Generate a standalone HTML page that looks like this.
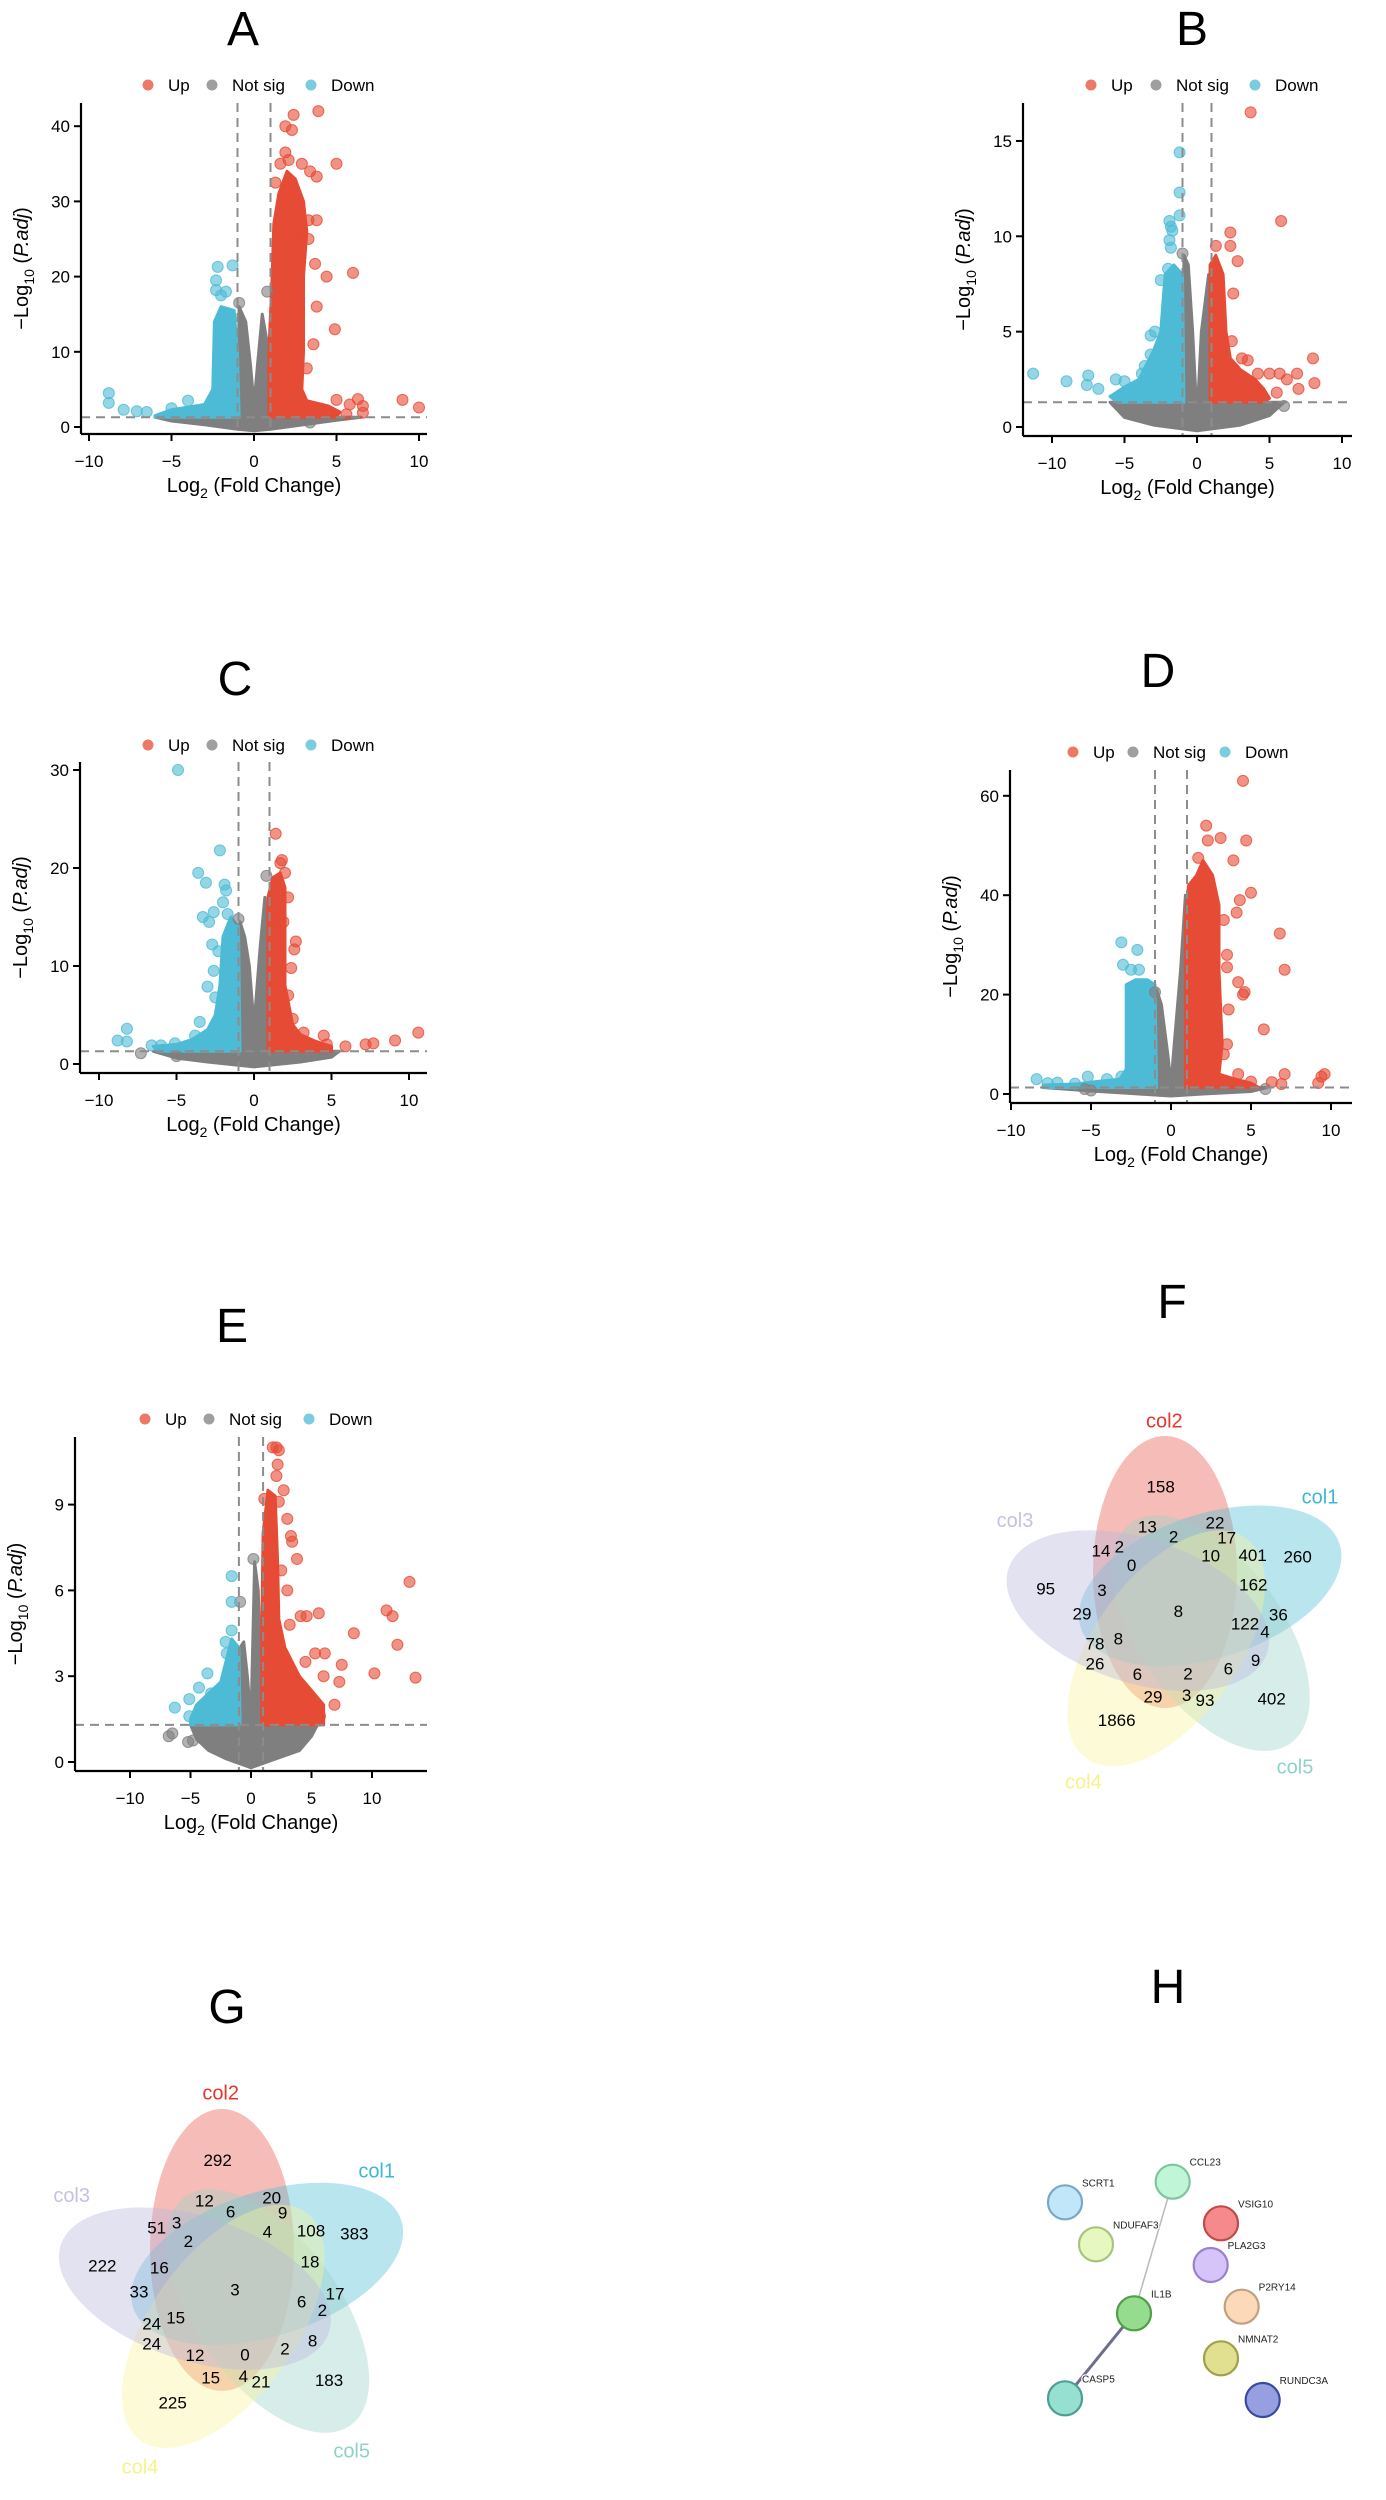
<!DOCTYPE html>
<html><head><meta charset="utf-8">
<style>
html,body{margin:0;padding:0;background:#fff;}
svg{display:block;font-family:"Liberation Sans",Arial,sans-serif;}
</style></head>
<body>
<svg id="root" width="1386" height="2500" viewBox="0 0 1386 2500" xmlns="http://www.w3.org/2000/svg"></svg>
<script>
// ---------- Volcano data (x = log2 FC, y = -log10 padj) ----------
const xTicks10 = [-10,-5,0,5,10];
const aYTicks = [0,10,20,30,40];
const bYTicks = [0,5,10,15];
const cYTicks = [0,10,20,30];
const dYTicks = [0,20,40,60];
const eYTicks = [0,3,6,9];

const aUpEnv = [[0.9,1.3],[0.9,10],[1.1,20],[1.2,27],[1.5,31],[2.0,34],[2.5,33],[3.0,30],[3.2,26],[3.0,20],[3.0,10],[2.9,5],[3.2,3.5],[4.5,2.8],[5.2,2.0],[5,1.3]];
const aDownEnv = [[-0.9,1.3],[-1,10],[-1.2,15.5],[-2,16],[-2.4,14],[-2.5,5],[-3,3],[-5,2.3],[-6,1.5],[-6,1.3]];
const aNsEnv = [[-6,1.3],[-5,0.8],[-3,0.3],[-1,-0.3],[0,-0.5],[1,-0.3],[3,0.3],[5,0.9],[6.5,1.3],[1,1.3],[0.9,10],[0.5,15],[0.2,8],[0,3],[-0.2,8],[-0.5,14],[-0.9,16],[-1,1.3]];
const aUpPts = [[2.4,41.5],[3.9,42],[1.9,40],[2.3,39.5],[1.9,36.5],[2.1,35.5],[1.6,35],[2.9,35],[3.4,34],[5,35],[1.3,32.5],[3.8,33.3],[3.3,27.5],[3.8,27.5],[3.3,25],[3.7,21.7],[4.4,20],[6,20.5],[3.8,16],[4.9,13],[3.6,11],[3.2,7.8],[5,3.6],[5.8,3],[6.3,3.7],[6.6,2.8],[6.6,1.9],[5.6,1.7],[9,3.6],[10,2.6],[1.5,27],[2.1,30],[2.7,25]];
const aDownPts = [[-2.2,21.3],[-1.3,21.5],[-2.3,19.5],[-2.3,18.2],[-1.7,18],[-2.0,17.5],[-8.8,4.5],[-8.8,3.2],[-7.9,2.3],[-7.1,2.1],[-6.5,2],[-4,3.5],[-5,2.5]];
const aNsPts = [[-0.9,16.5],[0.8,18],[3.4,0.6]];

const bUpEnv = [[0.9,1.3],[0.9,8.5],[1.3,9],[1.8,8],[2.0,5],[2.3,3.6],[3,3],[4,2.5],[4.6,2.0],[5,1.5],[4.5,1.3]];
const bDownEnv = [[-0.9,1.3],[-1,8],[-1.6,8.5],[-2.2,8],[-2.5,5],[-3,4],[-4,2.5],[-5,2.1],[-6,1.6],[-5.5,1.3]];
const bNsEnv = [[-6,1.3],[-5,0.5],[-3,0.1],[0,-0.2],[3,0.1],[5,0.6],[6,1.3],[0.9,1.3],[0.8,8],[0.3,5],[0,0.5],[-0.3,5],[-0.6,8.5],[-0.9,9],[-1,1.3]];
const bUpPts = [[3.7,16.5],[5.8,10.8],[2.3,10.2],[2.3,9.5],[2.8,8.7],[1.3,9.5],[2.5,7],[2.4,4.5],[3.1,3.6],[3.5,3.5],[4.2,2.8],[5,2.8],[5.7,2.8],[6.2,2.5],[6.9,2.8],[8,3.6],[8.1,2.3],[7,2],[5.5,1.8]];
const bDownPts = [[-1.2,14.4],[-1.2,12.3],[-1.2,11.1],[-1.9,10.8],[-1.8,10.5],[-1.7,10.3],[-1.9,9.8],[-1.8,9.4],[-2,8.3],[-2.5,7.7],[-3.2,4.8],[-2.9,5],[-3.2,3.8],[-3.6,3.2],[-3.8,2.8],[-11.3,2.8],[-9,2.4],[-7.5,2.7],[-7.6,2.2],[-6.8,2],[-5.6,2.5],[-5,2.4]];
const bNsPts = [[-1.0,9.1],[6,1.1],[4.5,0.8],[-5,0.9]];

const cUpEnv = [[0.9,1.3],[0.9,17],[1.2,19],[1.7,19.5],[2,18],[2,8],[2.5,4],[3,3],[4,2.3],[5,1.8],[5,1.3]];
const cDownEnv = [[-0.9,1.3],[-1,14],[-1.5,15],[-2,13],[-2.2,8],[-2.5,5],[-3,3.5],[-4,2.5],[-5,2],[-6.5,1.8],[-6.2,1.3]];
const cNsEnv = [[-6.5,1.3],[-5,0.6],[-3,0.2],[0,-0.3],[3,0.2],[5,0.7],[5.5,1.3],[0.9,1.3],[0.7,17],[0.4,12],[0,4],[-0.3,10],[-0.6,13],[-0.9,14.5],[-1,1.3]];
const cUpPts = [[1.4,23.5],[1.7,20.5],[1.8,20.8],[2.0,19.5],[2.2,17],[2.7,12.5],[2.6,11.7],[2.4,9.8],[2.2,7],[2.5,4.6],[3.2,3.2],[4.5,2.9],[4.7,2.0],[5.9,1.8],[7.2,2.0],[7.7,2.1],[9.1,2.4],[10.6,3.2],[1.5,15],[1.9,14.5]];
const cDownPts = [[-4.9,30],[-2.2,21.8],[-3.6,19.5],[-3.1,18.5],[-1.9,18.3],[-1.8,17.7],[-2.0,16.5],[-1.7,15.3],[-2.6,15.5],[-3.3,15],[-2.9,14.5],[-2.7,12.2],[-2.3,11.5],[-2.6,9.5],[-3.0,7.9],[-2.5,6.8],[-3.5,4.3],[-8.2,3.6],[-8.8,2.4],[-8.2,2.3],[-6.6,1.9],[-6,1.9],[-5.1,2.1],[-3.8,2.9],[-2.2,4.5]];
const cNsPts = [[-7.3,1.1],[-1.0,14.8],[0.8,19.2],[-5,0.8]];

const dUpEnv = [[0.9,1.3],[0.9,35],[1.1,42],[1.6,44],[2.0,47],[2.6,44],[3.0,38],[3.0,25],[3.2,10],[3.0,4],[4,3],[5,2.2],[5.5,1.3]];
const dDownEnv = [[-0.9,1.3],[-1,22],[-1.5,23],[-2.2,23],[-2.8,22],[-2.8,5],[-3.2,3],[-5,2.4],[-6,2],[-8,1.8],[-8,1.3]];
const dNsEnv = [[-8,1.3],[-5,0.6],[-2,0],[0,-0.4],[2,0],[5,0.5],[6,1.3],[0.9,1.3],[0.9,40],[0.6,25],[0.2,10],[0,2],[-0.2,8],[-0.6,18],[-0.9,21],[-1,1.3]];
const dUpPts = [[4.5,63],[2.2,54],[2.3,51],[3.1,51.5],[4.7,51],[1.7,47.5],[3.9,47],[5,40.5],[4.3,39],[4.1,36.5],[3.3,35],[6.8,32.3],[7.1,25],[3.5,28],[3.5,25.5],[4.2,22.5],[4.6,20.5],[4.5,20],[3.6,17],[5.8,13],[3.5,10],[3.3,8],[4.2,4],[7.1,4],[5,2.5],[6.3,2.4],[6.9,2],[9.2,2.2],[9.4,3.5],[9.6,4]];
const dDownPts = [[-3.1,30.5],[-2.1,29],[-3.0,26],[-2.5,25],[-2.0,25],[-8.4,3],[-7.7,2.2],[-7.1,2.3],[-6,2.1],[-5.2,3.5],[-4,3],[-3.1,3.5]];
const dNsPts = [[-1.0,20.5],[-5,0.7],[-5.4,1],[5.9,1.0]];

const eUpEnv = [[0.9,1.3],[0.9,5],[1.0,8],[1.4,9.5],[2.0,9.3],[2.2,7],[2.3,5],[2.8,4],[4,3],[5,2.5],[6,2],[6,1.3]];
const eDownEnv = [[-0.9,1.3],[-1,4],[-1.6,4.3],[-2.5,2.8],[-3.5,2.4],[-4.5,2],[-5,1.5],[-5,1.3]];
const eNsEnv = [[-5,1.3],[-4.5,0.8],[-3.5,0.4],[-2,0.1],[0,-0.2],[2,0.1],[4,0.4],[5,0.9],[5.5,1.3],[0.9,1.3],[0.6,6],[0.3,7],[0,1.5],[-0.3,3],[-0.6,4.2],[-0.9,4],[-1,1.3]];
const eUpPts = [[1.8,11],[2.1,11],[2.3,10.9],[2.2,10.4],[2.1,10.0],[2.7,9.5],[1.1,9.2],[2.3,9.1],[3.0,8.5],[3.3,7.9],[3.4,7.7],[3.8,7.1],[2.5,6.7],[3.0,6.0],[4.1,5.1],[4.6,5.1],[5.6,5.2],[3.2,4.8],[8.5,4.5],[11.2,5.3],[11.7,5.1],[12.1,4.1],[13.1,6.3],[10.2,3.1],[13.6,2.95],[7.5,3.4],[7.3,2.8],[6.1,3.8],[5.3,3.8],[6.9,2.0],[5.7,1.6],[6,3],[4.5,3.5]];
const eDownPts = [[-1.6,6.5],[-1.6,5.6],[-1.6,4.6],[-2.1,4.2],[-3.6,3.1],[-4.3,2.6],[-6.3,1.9],[-5.1,2.2],[-5.1,1.6],[-3.3,2.4],[-2,3.8]];
const eNsPts = [[-0.9,5.6],[-6.5,1],[-6.8,0.9],[-5.2,0.7],[-4.8,0.75],[3.6,1.1],[-3,0.7],[0.2,7.1]];

const fcCut = [-1, 1];
const padjCut = [1.3];

// ---------- Venn data ----------
const vennSets = ["col2","col1","col5","col4","col3"];
const fCounts = [158,22,17,13,2,14,2,0,10,401,260,95,3,162,29,8,36,122,4,78,8,26,6,2,6,9,29,3,93,402,1866];
const gCounts = [292,20,9,12,6,51,3,2,4,108,383,222,16,18,33,3,17,6,2,24,15,24,12,0,2,8,15,4,21,183,225];

// ---------- Network data ----------
const genes = ["SCRT1","CCL23","NDUFAF3","VSIG10","PLA2G3","IL1B","P2RY14","NMNAT2","CASP5","RUNDC3A"];
const edgesFrom = ["CCL23","IL1B"];
const edgesTo = ["IL1B","CASP5"];

// ================= rendering =================
const NS = "http://www.w3.org/2000/svg";
const root = document.getElementById('root');
function mk(tag, attrs, parent){
  const e = document.createElementNS(NS, tag);
  for (const k in attrs) e.setAttribute(k, attrs[k]);
  (parent||root).appendChild(e);
  return e;
}
const COL_UP = "#e64b35", COL_NS = "#7f7f7f", COL_DN = "#4dbbd5";

function volcano(cfg){
  const g = mk('g', {});
  
  
  const sx = v => cfg.x0 + v * cfg.xu;
  const sy = v => cfg.y0 - v * cfg.yu;
  const t = mk('text', {x: cfg.tx, y: cfg.ty, 'font-size': 48, 'text-anchor': 'middle', fill: '#000'}, g);
  t.textContent = cfg.id;
  
  
  const lg = mk('g', {}, g);
  
  
  const labs = ["Up","Not sig","Down"], cols = [COL_UP, COL_NS, COL_DN];
  for (let i=0;i<3;i++){
    const c = mk('circle', {cx: cfg.lx[i], cy: cfg.ly, r: 5.5, fill: cols[i], 'fill-opacity': 0.75}, lg);
    
    
    const tx = mk('text', {x: cfg.lx[i]+20, y: cfg.ly+6, 'font-size': 17, fill: '#000'}, lg);
    tx.textContent = labs[i];
    
    
  }
  const cid = 'clip' + cfg.id;
  const cp = mk('clipPath', {id: cid}, g);
  mk('rect', {x: cfg.ax, y: cfg.top, width: cfg.right-cfg.ax, height: cfg.bottom-cfg.top}, cp);
  const plot = mk('g', {'clip-path': 'url(#'+cid+')'}, g);
  function env(pts, col, name){
    const p = mk('polygon', {points: pts.map(d => sx(d[0])+','+sy(d[1])).join(' '), fill: col, stroke: col, 'stroke-width': 3, 'stroke-linejoin':'round'}, plot);
    
    
  }
  function pts(arr, col, name){
    arr.forEach(d => {
      const c = mk('circle', {cx: sx(d[0]), cy: sy(d[1]), r: 5.5, fill: col, 'fill-opacity': 0.6, stroke: col, 'stroke-opacity': 0.8, 'stroke-width': 1}, plot);
      
      
    });
  }
  env(cfg.nsEnv, COL_NS, 'not-sig-cloud');
  env(cfg.downEnv, COL_DN, 'down-cloud');
  env(cfg.upEnv, COL_UP, 'up-cloud');
  pts(cfg.nsPts, COL_NS, 'not-sig-point');
  pts(cfg.downPts, COL_DN, 'down-point');
  pts(cfg.upPts, COL_UP, 'up-point');
  fcCut.forEach(v => {
    const l = mk('line', {x1: sx(v), x2: sx(v), y1: cfg.top, y2: cfg.bottom, stroke: '#8c8c8c', 'stroke-width': 2, 'stroke-dasharray': '9 6'}, g);
    
    
  });
  padjCut.forEach(v => {
    const l = mk('line', {x1: cfg.ax, x2: cfg.right, y1: sy(v), y2: sy(v), stroke: '#8c8c8c', 'stroke-width': 2, 'stroke-dasharray': '9 6'}, g);
    
    
  });
  const ya = mk('line', {x1: cfg.ax, x2: cfg.ax, y1: cfg.top, y2: cfg.bottom, stroke: '#000', 'stroke-width': 2.2}, g);
  
  
  const xa = mk('line', {x1: cfg.ax, x2: cfg.right, y1: cfg.bottom, y2: cfg.bottom, stroke: '#000', 'stroke-width': 2.2}, g);
  
  
  xTicks10.forEach(v => {
    const x = sx(v);
    mk('line', {x1: x, x2: x, y1: cfg.bottom, y2: cfg.bottom+7, stroke: '#000', 'stroke-width': 2}, g);
    const tl = mk('text', {x: x, y: cfg.bottom+33, 'font-size': 17, 'text-anchor': 'middle'}, g);
    tl.textContent = v < 0 ? '\u2212' + (-v) : String(v);
    
    
  });
  cfg.yTicks.forEach(v => {
    const y = sy(v);
    mk('line', {x1: cfg.ax-7, x2: cfg.ax, y1: y, y2: y, stroke: '#000', 'stroke-width': 2}, g);
    const tl = mk('text', {x: cfg.ax-11, y: y+6, 'font-size': 17, 'text-anchor': 'end'}, g);
    tl.textContent = String(v);
    
    
  });
  const xt = mk('text', {x: (cfg.ax+cfg.right)/2, y: cfg.bottom+58, 'font-size': 20, 'text-anchor': 'middle'}, g);
  xt.innerHTML = 'Log<tspan font-size="14" dy="6">2</tspan><tspan dy="-6"> (Fold Change)</tspan>';
  
  
  const cy = (cfg.top+cfg.bottom)/2, cx = cfg.ax - 53;
  const yt = mk('text', {x: cx, y: cy, 'font-size': 20, 'text-anchor': 'middle', transform: 'rotate(-90 '+cx+' '+cy+')'}, g);
  yt.innerHTML = '\u2212Log<tspan font-size="14" dy="6">10</tspan><tspan dy="-6"> (</tspan><tspan font-style="italic">P.adj</tspan>)';
  
  
}

volcano({id:'A', tx:243, ty:45, lx:[148,212,311], ly:85, ax:81, top:103, bottom:434, right:427, x0:254, xu:16.5, y0:427, yu:7.52, yTicks:aYTicks, upEnv:aUpEnv, downEnv:aDownEnv, nsEnv:aNsEnv, upPts:aUpPts, downPts:aDownPts, nsPts:aNsPts});
volcano({id:'B', tx:1192, ty:45, lx:[1091,1156,1255], ly:85, ax:1023, top:103, bottom:436, right:1352, x0:1197, xu:14.5, y0:427, yu:19.07, yTicks:bYTicks, upEnv:bUpEnv, downEnv:bDownEnv, nsEnv:bNsEnv, upPts:bUpPts, downPts:bDownPts, nsPts:bNsPts});
volcano({id:'C', tx:235, ty:695, lx:[148,212,311], ly:745, ax:80, top:762, bottom:1073, right:427, x0:254, xu:15.5, y0:1064, yu:9.8, yTicks:cYTicks, upEnv:cUpEnv, downEnv:cDownEnv, nsEnv:cNsEnv, upPts:cUpPts, downPts:cDownPts, nsPts:cNsPts});
volcano({id:'D', tx:1158, ty:687, lx:[1073,1133,1225], ly:752, ax:1010, top:770, bottom:1103, right:1352, x0:1171, xu:16, y0:1094, yu:4.97, yTicks:dYTicks, upEnv:dUpEnv, downEnv:dDownEnv, nsEnv:dNsEnv, upPts:dUpPts, downPts:dDownPts, nsPts:dNsPts});
volcano({id:'E', tx:232, ty:1342, lx:[145,209,309], ly:1419, ax:75, top:1437, bottom:1771, right:427, x0:251, xu:12.1, y0:1762, yu:28.6, yTicks:eYTicks, upEnv:eUpEnv, downEnv:eDownEnv, nsEnv:eNsEnv, upPts:eUpPts, downPts:eDownPts, nsPts:eNsPts});

// ---------- Venn ----------
const vennFill = ["#e8574a","#4fbdd6","#9bd3c8","#fbf59a","#b9b6dd"];
const vennNameCol = ["#e8352a","#3db8d4","#8dd3c7","#f5f38a","#c4c2e0"];
function venn(cfg){
  const g = mk('g', {});
  
  
  const t = mk('text', {x: cfg.tx, y: cfg.ty, 'font-size': 48, 'text-anchor': 'middle'}, g);
  t.textContent = cfg.id;
  
  
  const ox = cfg.ox, oy = cfg.oy, s = 1/3;
  vennSets.forEach((name, k) => {
    const e = mk('ellipse', {cx: cfg.cx-13, cy: cfg.cy-38, rx: cfg.rx, ry: cfg.ry, fill: vennFill[k], 'fill-opacity': 0.4, transform: 'rotate('+(k*72)+' '+cfg.cx+' '+cfg.cy+')'}, g);
    
    
    const p = cfg.namePos[k];
    const nt = mk('text', {x: ox+p[0]*s, y: oy+p[1]*s+7, 'font-size': 20, 'text-anchor': 'middle', fill: vennNameCol[k]}, g);
    nt.textContent = name;
    
    
  });
  cfg.counts.forEach((v, i) => {
    const p = cfg.pos[i];
    const ct = mk('text', {x: ox+p[0]*s, y: oy+p[1]*s+6, 'font-size': 17, 'text-anchor': 'middle', fill: '#000'}, g);
    ct.textContent = String(v);
    
    
  });
}
venn({id:'F', tx:1172, ty:1318, ox:950, oy:1300, cx:1178, cy:1610, rx:72, ry:136, counts:fCounts,
  namePos:[[643,362],[1110,590],[1035,1400],[400,1445],[195,660]],
  pos:[[632,560],[795,668],[830,712],[592,680],[671,710],[453,752],[508,740],[545,795],[782,766],[908,765],[1043,770],[287,865],[456,870],[910,853],[396,940],[685,933],[985,944],[885,970],[945,995],[435,1030],[505,1015],[435,1090],[562,1122],[714,1120],[835,1105],[917,1080],[609,1190],[710,1185],[765,1200],[965,1195],[500,1260]]});
venn({id:'G', tx:227, ty:2023, ox:0, oy:1960, cx:235, cy:2288, rx:72, ry:141, counts:gCounts,
  namePos:[[662,398],[1130,632],[1055,1472],[420,1520],[215,705]],
  pos:[[653,600],[815,713],[848,758],[613,722],[692,755],[470,803],[530,787],[565,843],[802,815],[933,812],[1063,820],[307,917],[478,922],[930,905],[417,995],[705,988],[1005,1000],[905,1025],[967,1050],[455,1090],[527,1072],[455,1150],[585,1185],[735,1183],[855,1165],[938,1142],[632,1252],[730,1248],[783,1265],[987,1260],[518,1327]]});

// ---------- Network H ----------
const nodePos = {SCRT1:[255,607],CCL23:[578,545],NDUFAF3:[348,733],VSIG10:[723,670],PLA2G3:[692,795],IL1B:[462,940],P2RY14:[785,920],NMNAT2:[723,1075],CASP5:[255,1195],RUNDC3A:[848,1200]};
const nodeFill = {SCRT1:"#c2e6f9",CCL23:"#c0f5d8",NDUFAF3:"#e6f8c0",VSIG10:"#f68a8a",PLA2G3:"#d6c3f8",IL1B:"#96dc8e",P2RY14:"#fcd9b8",NMNAT2:"#e0e090",CASP5:"#96e0d2",RUNDC3A:"#95a0e0"};
const nodeStroke = {SCRT1:"#7aa8c4",CCL23:"#7fc49b",NDUFAF3:"#a8c47a",VSIG10:"#c04a4a",PLA2G3:"#9a80d0",IL1B:"#4ea048",P2RY14:"#c0a080",NMNAT2:"#a0a048",CASP5:"#4a9e92",RUNDC3A:"#3a48a0"};
(function(){
  const g = mk('g', {});
  
  
  const t = mk('text', {x: 1168, y: 2003, 'font-size': 48, 'text-anchor': 'middle'}, g);
  t.textContent = 'H';
  
  
  const P = n => [980 + nodePos[n][0]/3, 2000 + nodePos[n][1]/3];
  edgesFrom.forEach((a, i) => {
    const p1 = P(a), p2 = P(edgesTo[i]);
    const l = mk('line', {x1:p1[0], y1:p1[1], x2:p2[0], y2:p2[1], stroke: i===0 ? '#b8b8c0' : '#6e6e8c', 'stroke-width': i===0 ? 1.5 : 3}, g);
    
    
  });
  genes.forEach(n => {
    const p = P(n);
    const c = mk('circle', {cx:p[0], cy:p[1], r:17, fill: nodeFill[n], stroke: nodeStroke[n], 'stroke-width': 2.2}, g);
    
    
    const tx = mk('text', {x:p[0]+17, y:p[1]-16, 'font-size': 10, fill:'#222', stroke:'#fff', 'stroke-width': 2.5, 'paint-order':'stroke'}, g);
    tx.textContent = n;
    
    
  });
})();
</script>
</body></html>
